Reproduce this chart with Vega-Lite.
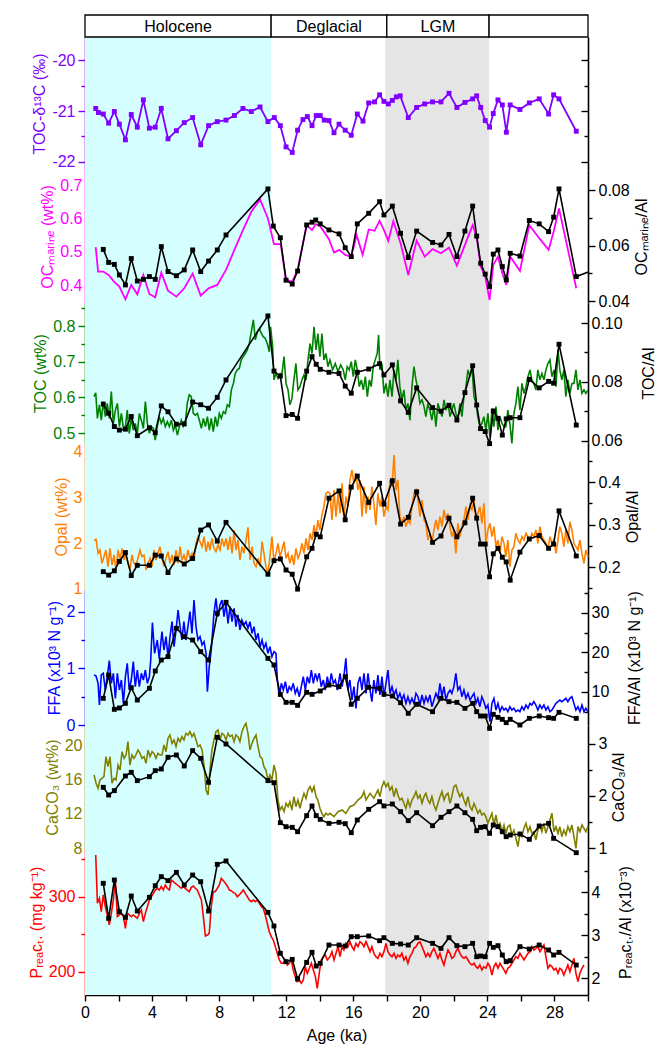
{
"$schema": "https://vega.github.io/schema/vega-lite/v6.json",
"width": 503, "height": 980,
"autosize": "none",
"padding": {"left": 85, "top": 15, "right": 79, "bottom": 53},
"config": {
  "view": {"stroke": null},
  "font": "Liberation Sans",
  "axis": {"labelFontSize": 16, "titleFontSize": 16, "titleFontWeight": "normal", "grid": false, "labelFont": "Liberation Sans", "titleFont": "Liberation Sans", "domainWidth": 1.6, "tickWidth": 1.4, "labelColor": "black", "titleColor": "black", "domainColor": "black", "tickColor": "black", "labelOverlap": false, "labelFlush": false, "titlePadding": 4}
},
"datasets": {
  "a": [{"age":0.64,"v":-20.95},{"age":0.80,"v":-21.03},{"age":1.09,"v":-21.06},{"age":1.41,"v":-21.24},{"age":1.75,"v":-21.01},{"age":2.05,"v":-21.26},{"age":2.41,"v":-21.57},{"age":2.76,"v":-21.07},{"age":3.12,"v":-21.32},{"age":3.48,"v":-20.78},{"age":3.84,"v":-21.34},{"age":4.19,"v":-21.32},{"age":4.55,"v":-20.95},{"age":4.95,"v":-21.55},{"age":5.45,"v":-21.39},{"age":5.92,"v":-21.23},{"age":6.42,"v":-21.13},{"age":6.90,"v":-21.67},{"age":7.37,"v":-21.29},{"age":7.89,"v":-21.21},{"age":8.41,"v":-21.18},{"age":8.91,"v":-21.09},{"age":9.42,"v":-20.95},{"age":9.92,"v":-21.01},{"age":10.44,"v":-20.92},{"age":10.91,"v":-21.21},{"age":11.29,"v":-21.13},{"age":11.65,"v":-21.29},{"age":11.99,"v":-21.71},{"age":12.36,"v":-21.82},{"age":12.68,"v":-21.38},{"age":13.00,"v":-21.17},{"age":13.26,"v":-21.11},{"age":13.54,"v":-21.29},{"age":13.79,"v":-21.09},{"age":14.03,"v":-21.09},{"age":14.27,"v":-21.18},{"age":14.55,"v":-21.19},{"age":14.85,"v":-21.43},{"age":15.15,"v":-21.26},{"age":15.52,"v":-21.38},{"age":15.88,"v":-21.48},{"age":16.24,"v":-21.06},{"age":16.58,"v":-21.20},{"age":16.92,"v":-20.84},{"age":17.27,"v":-20.82},{"age":17.57,"v":-20.68},{"age":17.83,"v":-20.81},{"age":18.09,"v":-20.86},{"age":18.33,"v":-20.79},{"age":18.57,"v":-20.72},{"age":18.80,"v":-20.70},{"age":19.28,"v":-21.13},{"age":19.78,"v":-20.93},{"age":20.26,"v":-20.86},{"age":20.73,"v":-20.82},{"age":21.23,"v":-20.82},{"age":21.71,"v":-20.65},{"age":22.18,"v":-20.93},{"age":22.66,"v":-20.83},{"age":23.12,"v":-20.76},{"age":23.36,"v":-20.70},{"age":23.60,"v":-20.93},{"age":23.87,"v":-21.19},{"age":24.13,"v":-21.32},{"age":24.35,"v":-21.05},{"age":24.63,"v":-20.78},{"age":24.89,"v":-20.88},{"age":25.13,"v":-21.42},{"age":25.36,"v":-20.88},{"age":25.94,"v":-20.97},{"age":26.50,"v":-20.84},{"age":27.09,"v":-20.76},{"age":27.65,"v":-21.06},{"age":27.95,"v":-20.68},{"age":28.27,"v":-20.76},{"age":29.30,"v":-21.40}],
  "b_oc": [{"age":0.64,"v":0.514},{"age":0.78,"v":0.441},{"age":1.09,"v":0.441},{"age":1.41,"v":0.431},{"age":1.73,"v":0.411},{"age":2.05,"v":0.396},{"age":2.41,"v":0.358},{"age":2.76,"v":0.401},{"age":3.12,"v":0.373},{"age":3.48,"v":0.431},{"age":3.84,"v":0.374},{"age":4.19,"v":0.364},{"age":4.55,"v":0.438},{"age":4.95,"v":0.384},{"age":5.45,"v":0.366},{"age":5.92,"v":0.391},{"age":6.42,"v":0.435},{"age":6.90,"v":0.369},{"age":7.37,"v":0.391},{"age":7.89,"v":0.401},{"age":8.41,"v":0.446},{"age":8.91,"v":0.506},{"age":9.42,"v":0.565},{"age":9.92,"v":0.620},{"age":10.44,"v":0.657},{"age":10.91,"v":0.600},{"age":11.27,"v":0.523},{"age":11.67,"v":0.523},{"age":11.99,"v":0.416},{"age":12.36,"v":0.411},{"age":12.68,"v":0.446},{"age":13.22,"v":0.580},{"age":13.54,"v":0.565},{"age":13.76,"v":0.583},{"age":14.03,"v":0.577},{"age":14.55,"v":0.538},{"age":14.85,"v":0.498},{"age":15.17,"v":0.506},{"age":15.52,"v":0.491},{"age":15.88,"v":0.486},{"age":16.20,"v":0.550},{"age":16.56,"v":0.491},{"age":16.92,"v":0.567},{"age":17.27,"v":0.563},{"age":17.57,"v":0.593},{"age":17.83,"v":0.565},{"age":18.09,"v":0.533},{"age":18.39,"v":0.592},{"age":18.82,"v":0.526},{"age":19.28,"v":0.431},{"age":19.78,"v":0.534},{"age":20.26,"v":0.486},{"age":20.73,"v":0.508},{"age":21.23,"v":0.496},{"age":21.71,"v":0.513},{"age":22.18,"v":0.459},{"age":22.66,"v":0.521},{"age":23.12,"v":0.580},{"age":23.36,"v":0.545},{"age":23.60,"v":0.456},{"age":23.87,"v":0.426},{"age":24.13,"v":0.356},{"age":24.35,"v":0.461},{"age":24.63,"v":0.486},{"age":24.89,"v":0.436},{"age":25.13,"v":0.401},{"age":25.36,"v":0.486},{"age":25.94,"v":0.443},{"age":26.50,"v":0.580},{"age":27.09,"v":0.541},{"age":27.65,"v":0.506},{"age":27.95,"v":0.560},{"age":28.27,"v":0.630},{"age":29.30,"v":0.391}],
  "b_al": [{"age":1.09,"v":0.0586},{"age":1.41,"v":0.0539},{"age":1.75,"v":0.0532},{"age":2.05,"v":0.0494},{"age":2.41,"v":0.0458},{"age":2.76,"v":0.0553},{"age":3.12,"v":0.0472},{"age":3.48,"v":0.0478},{"age":3.84,"v":0.0488},{"age":4.19,"v":0.0478},{"age":4.55,"v":0.0596},{"age":4.95,"v":0.0506},{"age":5.45,"v":0.0491},{"age":5.92,"v":0.0512},{"age":6.42,"v":0.0584},{"age":6.90,"v":0.0506},{"age":7.37,"v":0.0544},{"age":7.89,"v":0.0584},{"age":8.41,"v":0.0638},{"age":10.91,"v":0.0804},{"age":11.23,"v":0.0670},{"age":11.65,"v":0.0628},{"age":11.99,"v":0.0475},{"age":12.36,"v":0.0461},{"age":12.68,"v":0.0508},{"age":13.22,"v":0.0674},{"age":13.54,"v":0.0684},{"age":13.76,"v":0.0692},{"age":14.03,"v":0.0678},{"age":14.55,"v":0.0656},{"age":15.15,"v":0.0642},{"age":15.52,"v":0.0592},{"age":15.88,"v":0.0560},{"age":16.24,"v":0.0678},{"age":16.92,"v":0.0716},{"age":17.57,"v":0.0758},{"age":17.83,"v":0.0710},{"age":18.33,"v":0.0742},{"age":18.82,"v":0.0644},{"age":19.28,"v":0.0557},{"age":19.78,"v":0.0652},{"age":20.73,"v":0.0611},{"age":21.23,"v":0.0602},{"age":21.71,"v":0.0640},{"age":22.18,"v":0.0560},{"age":22.66,"v":0.0652},{"age":23.12,"v":0.0742},{"age":23.36,"v":0.0634},{"age":23.60,"v":0.0536},{"age":23.87,"v":0.0497},{"age":24.13,"v":0.0452},{"age":24.35,"v":0.0569},{"age":24.63,"v":0.0584},{"age":24.89,"v":0.0524},{"age":25.13,"v":0.0476},{"age":25.36,"v":0.0572},{"age":25.94,"v":0.0562},{"age":26.50,"v":0.0690},{"age":27.09,"v":0.0678},{"age":27.65,"v":0.0650},{"age":27.95,"v":0.0702},{"age":28.27,"v":0.0804},{"age":29.30,"v":0.0488},{"age":31.0,"v":0.0527}],
  "c_toc": [{"age":0.54,"v":0.602},{"age":0.64,"v":0.613},{"age":0.74,"v":0.541},{"age":0.86,"v":0.579},{"age":0.97,"v":0.536},{"age":1.09,"v":0.588},{"age":1.21,"v":0.546},{"age":1.33,"v":0.583},{"age":1.45,"v":0.541},{"age":1.57,"v":0.616},{"age":1.69,"v":0.527},{"age":1.81,"v":0.564},{"age":1.93,"v":0.583},{"age":2.05,"v":0.518},{"age":2.17,"v":0.555},{"age":2.29,"v":0.513},{"age":2.41,"v":0.518},{"age":2.52,"v":0.564},{"age":2.64,"v":0.499},{"age":2.76,"v":0.541},{"age":2.88,"v":0.508},{"age":3.00,"v":0.527},{"age":3.12,"v":0.499},{"age":3.24,"v":0.555},{"age":3.36,"v":0.536},{"age":3.48,"v":0.513},{"age":3.60,"v":0.588},{"age":3.72,"v":0.527},{"age":3.84,"v":0.499},{"age":3.96,"v":0.518},{"age":4.08,"v":0.513},{"age":4.19,"v":0.480},{"age":4.31,"v":0.518},{"age":4.43,"v":0.546},{"age":4.55,"v":0.527},{"age":4.67,"v":0.541},{"age":4.79,"v":0.518},{"age":4.91,"v":0.532},{"age":5.03,"v":0.518},{"age":5.15,"v":0.536},{"age":5.27,"v":0.508},{"age":5.39,"v":0.522},{"age":5.51,"v":0.494},{"age":5.63,"v":0.518},{"age":5.74,"v":0.536},{"age":5.86,"v":0.518},{"age":5.98,"v":0.527},{"age":6.10,"v":0.583},{"age":6.22,"v":0.607},{"age":6.34,"v":0.602},{"age":6.46,"v":0.555},{"age":6.58,"v":0.550},{"age":6.70,"v":0.555},{"age":6.82,"v":0.536},{"age":6.94,"v":0.513},{"age":7.06,"v":0.541},{"age":7.18,"v":0.518},{"age":7.30,"v":0.546},{"age":7.41,"v":0.508},{"age":7.53,"v":0.541},{"age":7.65,"v":0.504},{"age":7.77,"v":0.546},{"age":7.89,"v":0.518},{"age":8.01,"v":0.555},{"age":8.13,"v":0.541},{"age":8.25,"v":0.560},{"age":8.37,"v":0.555},{"age":8.49,"v":0.579},{"age":8.61,"v":0.574},{"age":8.73,"v":0.621},{"age":8.85,"v":0.639},{"age":8.96,"v":0.667},{"age":9.08,"v":0.677},{"age":9.20,"v":0.681},{"age":9.32,"v":0.705},{"age":9.44,"v":0.714},{"age":9.56,"v":0.723},{"age":9.68,"v":0.733},{"age":9.80,"v":0.751},{"age":9.92,"v":0.784},{"age":10.04,"v":0.817},{"age":10.16,"v":0.761},{"age":10.28,"v":0.784},{"age":10.40,"v":0.793},{"age":10.52,"v":0.779},{"age":10.63,"v":0.770},{"age":10.75,"v":0.765},{"age":10.87,"v":0.751},{"age":10.99,"v":0.728},{"age":11.07,"v":0.798},{"age":11.19,"v":0.742},{"age":11.27,"v":0.649},{"age":11.39,"v":0.667},{"age":11.51,"v":0.653},{"age":11.63,"v":0.667},{"age":11.75,"v":0.667},{"age":11.87,"v":0.714},{"age":11.99,"v":0.639},{"age":12.11,"v":0.621},{"age":12.22,"v":0.579},{"age":12.34,"v":0.597},{"age":12.46,"v":0.649},{"age":12.58,"v":0.695},{"age":12.70,"v":0.621},{"age":12.82,"v":0.630},{"age":12.94,"v":0.649},{"age":13.06,"v":0.663},{"age":13.18,"v":0.649},{"age":13.30,"v":0.705},{"age":13.42,"v":0.751},{"age":13.54,"v":0.723},{"age":13.66,"v":0.798},{"age":13.78,"v":0.733},{"age":13.89,"v":0.779},{"age":14.01,"v":0.714},{"age":14.13,"v":0.779},{"age":14.25,"v":0.705},{"age":14.37,"v":0.723},{"age":14.49,"v":0.686},{"age":14.61,"v":0.705},{"age":14.77,"v":0.677},{"age":14.93,"v":0.695},{"age":15.09,"v":0.672},{"age":15.25,"v":0.691},{"age":15.40,"v":0.677},{"age":15.52,"v":0.649},{"age":15.64,"v":0.686},{"age":15.76,"v":0.677},{"age":15.88,"v":0.700},{"age":16.00,"v":0.658},{"age":16.12,"v":0.705},{"age":16.24,"v":0.677},{"age":16.36,"v":0.630},{"age":16.48,"v":0.649},{"age":16.60,"v":0.621},{"age":16.72,"v":0.658},{"age":16.84,"v":0.602},{"age":16.96,"v":0.649},{"age":17.07,"v":0.630},{"age":17.19,"v":0.686},{"age":17.31,"v":0.705},{"age":17.43,"v":0.723},{"age":17.51,"v":0.775},{"age":17.59,"v":0.677},{"age":17.71,"v":0.695},{"age":17.83,"v":0.611},{"age":17.95,"v":0.639},{"age":18.07,"v":0.602},{"age":18.19,"v":0.649},{"age":18.31,"v":0.602},{"age":18.43,"v":0.677},{"age":18.55,"v":0.649},{"age":18.66,"v":0.705},{"age":18.78,"v":0.630},{"age":18.90,"v":0.593},{"age":19.02,"v":0.621},{"age":19.14,"v":0.564},{"age":19.26,"v":0.583},{"age":19.38,"v":0.536},{"age":19.50,"v":0.630},{"age":19.62,"v":0.686},{"age":19.74,"v":0.649},{"age":19.86,"v":0.621},{"age":19.98,"v":0.583},{"age":20.10,"v":0.593},{"age":20.22,"v":0.574},{"age":20.33,"v":0.546},{"age":20.45,"v":0.583},{"age":20.57,"v":0.564},{"age":20.69,"v":0.536},{"age":20.81,"v":0.574},{"age":20.93,"v":0.518},{"age":21.05,"v":0.583},{"age":21.17,"v":0.564},{"age":21.29,"v":0.546},{"age":21.41,"v":0.593},{"age":21.53,"v":0.564},{"age":21.65,"v":0.583},{"age":21.77,"v":0.546},{"age":21.88,"v":0.564},{"age":22.00,"v":0.583},{"age":22.12,"v":0.555},{"age":22.24,"v":0.536},{"age":22.36,"v":0.583},{"age":22.48,"v":0.546},{"age":22.60,"v":0.602},{"age":22.72,"v":0.630},{"age":22.84,"v":0.677},{"age":22.96,"v":0.658},{"age":23.08,"v":0.686},{"age":23.20,"v":0.602},{"age":23.32,"v":0.583},{"age":23.43,"v":0.546},{"age":23.55,"v":0.518},{"age":23.67,"v":0.527},{"age":23.79,"v":0.546},{"age":23.91,"v":0.508},{"age":24.03,"v":0.555},{"age":24.15,"v":0.490},{"age":24.27,"v":0.564},{"age":24.39,"v":0.518},{"age":24.51,"v":0.574},{"age":24.63,"v":0.508},{"age":24.75,"v":0.546},{"age":24.87,"v":0.527},{"age":24.99,"v":0.518},{"age":25.10,"v":0.518},{"age":25.22,"v":0.564},{"age":25.34,"v":0.527},{"age":25.46,"v":0.471},{"age":25.58,"v":0.555},{"age":25.70,"v":0.583},{"age":25.82,"v":0.630},{"age":25.94,"v":0.564},{"age":26.06,"v":0.639},{"age":26.18,"v":0.611},{"age":26.30,"v":0.630},{"age":26.42,"v":0.658},{"age":26.54,"v":0.677},{"age":26.65,"v":0.649},{"age":26.77,"v":0.639},{"age":26.89,"v":0.621},{"age":27.01,"v":0.677},{"age":27.13,"v":0.649},{"age":27.25,"v":0.667},{"age":27.37,"v":0.649},{"age":27.49,"v":0.677},{"age":27.61,"v":0.695},{"age":27.73,"v":0.705},{"age":27.85,"v":0.658},{"age":27.97,"v":0.677},{"age":28.09,"v":0.630},{"age":28.21,"v":0.733},{"age":28.32,"v":0.677},{"age":28.44,"v":0.649},{"age":28.56,"v":0.677},{"age":28.68,"v":0.602},{"age":28.80,"v":0.649},{"age":28.92,"v":0.611},{"age":29.04,"v":0.639},{"age":29.16,"v":0.639},{"age":29.28,"v":0.677},{"age":29.40,"v":0.621},{"age":29.52,"v":0.649},{"age":29.64,"v":0.611},{"age":29.76,"v":0.621},{"age":29.87,"v":0.611},{"age":30.0,"v":0.621}],
  "c_al": [{"age":1.09,"v":0.0725},{"age":1.41,"v":0.0694},{"age":1.75,"v":0.0649},{"age":2.05,"v":0.0637},{"age":2.41,"v":0.0640},{"age":2.76,"v":0.0683},{"age":3.12,"v":0.0618},{"age":3.84,"v":0.0645},{"age":4.19,"v":0.0628},{"age":4.55,"v":0.0719},{"age":4.95,"v":0.0699},{"age":5.45,"v":0.0657},{"age":5.92,"v":0.0658},{"age":6.42,"v":0.0732},{"age":6.90,"v":0.0723},{"age":7.37,"v":0.0711},{"age":7.89,"v":0.0748},{"age":8.41,"v":0.0807},{"age":10.91,"v":0.1024},{"age":11.27,"v":0.0837},{"age":11.65,"v":0.0820},{"age":11.99,"v":0.0686},{"age":12.36,"v":0.0690},{"age":12.68,"v":0.0677},{"age":13.22,"v":0.0837},{"age":13.54,"v":0.0886},{"age":13.79,"v":0.0860},{"age":14.03,"v":0.0843},{"age":14.55,"v":0.0833},{"age":15.15,"v":0.0829},{"age":15.52,"v":0.0786},{"age":15.88,"v":0.0762},{"age":16.24,"v":0.0833},{"age":16.92,"v":0.0844},{"age":17.57,"v":0.0862},{"age":17.83,"v":0.0824},{"age":18.33,"v":0.0858},{"age":18.82,"v":0.0736},{"age":19.28,"v":0.0697},{"age":19.78,"v":0.0780},{"age":20.73,"v":0.0713},{"age":21.23,"v":0.0701},{"age":21.71,"v":0.0721},{"age":22.18,"v":0.0671},{"age":22.66,"v":0.0764},{"age":23.12,"v":0.0855},{"age":23.36,"v":0.0722},{"age":23.59,"v":0.0642},{"age":23.87,"v":0.0632},{"age":24.13,"v":0.0591},{"age":24.35,"v":0.0702},{"age":24.63,"v":0.0677},{"age":24.89,"v":0.0620},{"age":25.12,"v":0.0675},{"age":25.36,"v":0.0679},{"age":25.94,"v":0.0679},{"age":26.50,"v":0.0809},{"age":27.09,"v":0.0780},{"age":27.65,"v":0.0802},{"age":27.95,"v":0.0796},{"age":28.27,"v":0.0928},{"age":29.30,"v":0.0654}],
  "d_opal": [{"age":0.54,"v":2.073},{"age":0.66,"v":2.088},{"age":0.78,"v":1.781},{"age":0.89,"v":1.854},{"age":1.01,"v":1.562},{"age":1.13,"v":1.708},{"age":1.25,"v":1.854},{"age":1.37,"v":1.489},{"age":1.49,"v":1.891},{"age":1.61,"v":1.526},{"age":1.73,"v":1.745},{"age":1.85,"v":1.416},{"age":1.97,"v":1.854},{"age":2.09,"v":1.635},{"age":2.21,"v":1.891},{"age":2.33,"v":1.635},{"age":2.45,"v":1.818},{"age":2.56,"v":1.562},{"age":2.68,"v":1.416},{"age":2.80,"v":1.745},{"age":2.92,"v":1.562},{"age":3.04,"v":1.526},{"age":3.16,"v":1.672},{"age":3.28,"v":1.854},{"age":3.40,"v":1.708},{"age":3.52,"v":1.745},{"age":3.64,"v":1.416},{"age":3.76,"v":1.562},{"age":3.88,"v":1.672},{"age":4.00,"v":1.489},{"age":4.11,"v":1.854},{"age":4.23,"v":1.635},{"age":4.35,"v":1.781},{"age":4.47,"v":1.927},{"age":4.59,"v":1.672},{"age":4.71,"v":1.489},{"age":4.83,"v":1.672},{"age":4.95,"v":1.818},{"age":5.07,"v":1.562},{"age":5.19,"v":1.745},{"age":5.31,"v":1.526},{"age":5.43,"v":1.854},{"age":5.55,"v":1.562},{"age":5.67,"v":1.927},{"age":5.78,"v":1.635},{"age":5.90,"v":1.745},{"age":6.02,"v":1.599},{"age":6.14,"v":1.854},{"age":6.26,"v":1.672},{"age":6.38,"v":1.781},{"age":6.50,"v":1.635},{"age":6.62,"v":2.000},{"age":6.74,"v":2.146},{"age":6.86,"v":2.036},{"age":6.98,"v":1.927},{"age":7.10,"v":2.146},{"age":7.22,"v":1.818},{"age":7.34,"v":2.036},{"age":7.45,"v":1.854},{"age":7.57,"v":2.109},{"age":7.69,"v":1.891},{"age":7.81,"v":1.818},{"age":7.93,"v":1.964},{"age":8.05,"v":1.854},{"age":8.17,"v":2.109},{"age":8.29,"v":1.927},{"age":8.41,"v":2.109},{"age":8.53,"v":1.854},{"age":8.65,"v":2.146},{"age":8.77,"v":1.781},{"age":8.89,"v":2.292},{"age":9.00,"v":1.854},{"age":9.12,"v":2.073},{"age":9.24,"v":1.635},{"age":9.36,"v":1.927},{"age":9.48,"v":1.781},{"age":9.60,"v":2.073},{"age":9.72,"v":2.350},{"age":9.84,"v":1.635},{"age":9.96,"v":1.927},{"age":10.08,"v":1.562},{"age":10.20,"v":1.489},{"age":10.32,"v":1.672},{"age":10.44,"v":1.489},{"age":10.56,"v":2.036},{"age":10.67,"v":1.781},{"age":10.79,"v":1.489},{"age":10.91,"v":1.343},{"age":11.03,"v":1.708},{"age":11.15,"v":2.146},{"age":11.27,"v":1.599},{"age":11.39,"v":1.781},{"age":11.51,"v":2.000},{"age":11.63,"v":1.708},{"age":11.75,"v":1.854},{"age":11.87,"v":2.036},{"age":11.99,"v":1.672},{"age":12.11,"v":1.781},{"age":12.22,"v":1.562},{"age":12.34,"v":1.745},{"age":12.46,"v":1.526},{"age":12.58,"v":1.891},{"age":12.70,"v":1.672},{"age":12.82,"v":1.781},{"age":12.94,"v":2.000},{"age":13.06,"v":1.781},{"age":13.18,"v":2.109},{"age":13.30,"v":1.854},{"age":13.42,"v":2.219},{"age":13.54,"v":2.073},{"age":13.66,"v":2.401},{"age":13.78,"v":2.146},{"age":13.89,"v":2.511},{"age":14.01,"v":2.292},{"age":14.13,"v":2.620},{"age":14.25,"v":2.803},{"age":14.37,"v":3.095},{"age":14.49,"v":3.131},{"age":14.61,"v":3.095},{"age":14.73,"v":2.511},{"age":14.85,"v":3.168},{"age":14.97,"v":2.584},{"age":15.09,"v":3.095},{"age":15.21,"v":2.657},{"age":15.33,"v":3.314},{"age":15.44,"v":2.511},{"age":15.56,"v":3.022},{"age":15.68,"v":2.803},{"age":15.80,"v":3.387},{"age":15.92,"v":3.606},{"age":16.04,"v":3.314},{"age":16.16,"v":3.533},{"age":16.28,"v":3.168},{"age":16.40,"v":3.387},{"age":16.52,"v":2.584},{"age":16.64,"v":3.241},{"age":16.76,"v":2.657},{"age":16.88,"v":3.022},{"age":17.00,"v":2.730},{"age":17.11,"v":3.241},{"age":17.23,"v":2.876},{"age":17.35,"v":2.401},{"age":17.47,"v":3.095},{"age":17.59,"v":2.803},{"age":17.71,"v":3.022},{"age":17.83,"v":2.584},{"age":17.95,"v":2.803},{"age":18.07,"v":2.730},{"age":18.19,"v":3.387},{"age":18.31,"v":3.241},{"age":18.43,"v":3.934},{"age":18.55,"v":3.168},{"age":18.66,"v":3.387},{"age":18.78,"v":2.584},{"age":18.90,"v":2.438},{"age":19.02,"v":2.584},{"age":19.14,"v":2.365},{"age":19.26,"v":2.511},{"age":19.38,"v":2.438},{"age":19.50,"v":2.803},{"age":19.62,"v":3.095},{"age":19.74,"v":3.168},{"age":19.86,"v":2.949},{"age":19.98,"v":2.584},{"age":20.10,"v":2.949},{"age":20.22,"v":2.511},{"age":20.33,"v":2.438},{"age":20.45,"v":2.073},{"age":20.57,"v":2.219},{"age":20.69,"v":2.000},{"age":20.81,"v":2.292},{"age":20.93,"v":2.511},{"age":21.05,"v":2.292},{"age":21.17,"v":2.584},{"age":21.29,"v":2.365},{"age":21.41,"v":2.730},{"age":21.53,"v":2.511},{"age":21.65,"v":2.657},{"age":21.77,"v":2.365},{"age":21.88,"v":2.146},{"age":22.00,"v":2.292},{"age":22.12,"v":1.781},{"age":22.24,"v":2.438},{"age":22.36,"v":2.146},{"age":22.48,"v":2.365},{"age":22.60,"v":2.511},{"age":22.72,"v":2.803},{"age":22.84,"v":2.511},{"age":22.96,"v":2.839},{"age":23.08,"v":2.730},{"age":23.20,"v":2.949},{"age":23.32,"v":2.511},{"age":23.43,"v":2.657},{"age":23.55,"v":2.803},{"age":23.67,"v":2.438},{"age":23.79,"v":2.876},{"age":23.91,"v":2.000},{"age":24.03,"v":2.292},{"age":24.15,"v":2.438},{"age":24.27,"v":2.146},{"age":24.39,"v":2.365},{"age":24.51,"v":1.927},{"age":24.63,"v":2.073},{"age":24.75,"v":1.781},{"age":24.87,"v":2.146},{"age":24.99,"v":2.000},{"age":25.10,"v":1.708},{"age":25.22,"v":2.073},{"age":25.34,"v":1.489},{"age":25.46,"v":1.854},{"age":25.58,"v":1.927},{"age":25.70,"v":2.219},{"age":25.82,"v":2.073},{"age":25.94,"v":2.000},{"age":26.06,"v":2.146},{"age":26.18,"v":2.073},{"age":26.30,"v":2.219},{"age":26.42,"v":2.146},{"age":26.54,"v":2.073},{"age":26.65,"v":2.219},{"age":26.77,"v":2.146},{"age":26.89,"v":2.292},{"age":27.01,"v":2.000},{"age":27.13,"v":2.365},{"age":27.25,"v":2.146},{"age":27.37,"v":2.073},{"age":27.49,"v":2.000},{"age":27.61,"v":1.854},{"age":27.73,"v":2.146},{"age":27.85,"v":2.000},{"age":27.97,"v":2.073},{"age":28.09,"v":1.781},{"age":28.21,"v":2.073},{"age":28.32,"v":2.365},{"age":28.44,"v":2.219},{"age":28.56,"v":1.927},{"age":28.68,"v":2.292},{"age":28.80,"v":2.000},{"age":28.92,"v":2.474},{"age":29.04,"v":2.292},{"age":29.16,"v":2.000},{"age":29.28,"v":1.927},{"age":29.40,"v":1.854},{"age":29.52,"v":2.073},{"age":29.64,"v":1.781},{"age":29.76,"v":1.562},{"age":29.87,"v":1.854},{"age":30.0,"v":1.708}],
  "d_al": [{"age":1.09,"v":0.189},{"age":1.41,"v":0.181},{"age":1.75,"v":0.191},{"age":2.05,"v":0.213},{"age":2.41,"v":0.234},{"age":2.76,"v":0.180},{"age":3.12,"v":0.204},{"age":3.84,"v":0.204},{"age":4.19,"v":0.228},{"age":4.55,"v":0.226},{"age":4.95,"v":0.187},{"age":5.45,"v":0.219},{"age":5.92,"v":0.207},{"age":6.42,"v":0.220},{"age":6.90,"v":0.287},{"age":7.37,"v":0.299},{"age":7.89,"v":0.261},{"age":8.41,"v":0.305},{"age":10.91,"v":0.183},{"age":11.27,"v":0.215},{"age":11.65,"v":0.219},{"age":11.99,"v":0.193},{"age":12.36,"v":0.183},{"age":12.68,"v":0.148},{"age":13.22,"v":0.224},{"age":13.54,"v":0.244},{"age":13.79,"v":0.277},{"age":14.03,"v":0.271},{"age":14.55,"v":0.362},{"age":15.15,"v":0.379},{"age":15.52,"v":0.311},{"age":15.88,"v":0.388},{"age":16.24,"v":0.414},{"age":16.92,"v":0.352},{"age":17.57,"v":0.397},{"age":17.83,"v":0.348},{"age":18.33,"v":0.403},{"age":18.82,"v":0.301},{"age":19.28,"v":0.317},{"age":19.78,"v":0.377},{"age":20.73,"v":0.258},{"age":21.23,"v":0.273},{"age":21.71,"v":0.315},{"age":22.18,"v":0.271},{"age":22.66,"v":0.304},{"age":23.12,"v":0.362},{"age":23.36,"v":0.315},{"age":23.59,"v":0.254},{"age":23.87,"v":0.254},{"age":24.13,"v":0.177},{"age":24.35,"v":0.231},{"age":24.63,"v":0.244},{"age":24.89,"v":0.223},{"age":25.12,"v":0.212},{"age":25.36,"v":0.169},{"age":25.94,"v":0.235},{"age":26.50,"v":0.266},{"age":27.09,"v":0.274},{"age":27.65,"v":0.244},{"age":27.95,"v":0.254},{"age":28.27,"v":0.332},{"age":29.30,"v":0.226}],
  "e_ffa": [{"age":0.54,"v":0.885},{"age":0.66,"v":0.867},{"age":0.78,"v":0.737},{"age":0.86,"v":0.354},{"age":0.97,"v":0.885},{"age":1.09,"v":0.914},{"age":1.21,"v":0.619},{"age":1.33,"v":0.855},{"age":1.45,"v":1.139},{"age":1.57,"v":0.737},{"age":1.69,"v":0.914},{"age":1.81,"v":0.472},{"age":1.93,"v":0.914},{"age":2.05,"v":0.619},{"age":2.17,"v":0.796},{"age":2.29,"v":0.383},{"age":2.41,"v":0.855},{"age":2.52,"v":1.091},{"age":2.64,"v":0.619},{"age":2.76,"v":0.796},{"age":2.88,"v":1.121},{"age":3.00,"v":0.678},{"age":3.12,"v":0.973},{"age":3.24,"v":0.678},{"age":3.36,"v":0.914},{"age":3.48,"v":0.796},{"age":3.60,"v":0.973},{"age":3.72,"v":0.737},{"age":3.84,"v":0.855},{"age":3.92,"v":1.150},{"age":4.02,"v":1.811},{"age":4.15,"v":1.268},{"age":4.31,"v":1.504},{"age":4.43,"v":1.180},{"age":4.59,"v":1.652},{"age":4.71,"v":1.327},{"age":4.83,"v":1.563},{"age":4.95,"v":1.209},{"age":5.07,"v":1.563},{"age":5.19,"v":1.829},{"age":5.31,"v":1.386},{"age":5.43,"v":1.681},{"age":5.55,"v":2.035},{"age":5.67,"v":1.740},{"age":5.78,"v":1.504},{"age":5.90,"v":1.829},{"age":6.02,"v":1.504},{"age":6.14,"v":1.740},{"age":6.26,"v":2.006},{"age":6.38,"v":1.622},{"age":6.50,"v":2.212},{"age":6.62,"v":1.740},{"age":6.74,"v":1.504},{"age":6.86,"v":1.563},{"age":6.98,"v":1.416},{"age":7.10,"v":1.475},{"age":7.22,"v":1.268},{"age":7.30,"v":0.589},{"age":7.41,"v":1.032},{"age":7.53,"v":1.327},{"age":7.69,"v":1.976},{"age":7.81,"v":2.242},{"age":7.93,"v":1.917},{"age":8.05,"v":2.124},{"age":8.17,"v":2.212},{"age":8.29,"v":1.917},{"age":8.41,"v":2.153},{"age":8.53,"v":1.799},{"age":8.65,"v":2.094},{"age":8.77,"v":1.829},{"age":8.89,"v":2.065},{"age":9.00,"v":1.740},{"age":9.12,"v":1.947},{"age":9.24,"v":1.681},{"age":9.36,"v":1.858},{"age":9.48,"v":1.770},{"age":9.60,"v":1.829},{"age":9.72,"v":1.711},{"age":9.84,"v":1.829},{"age":9.96,"v":1.622},{"age":10.08,"v":1.740},{"age":10.20,"v":1.504},{"age":10.32,"v":1.622},{"age":10.44,"v":1.386},{"age":10.56,"v":1.504},{"age":10.67,"v":1.357},{"age":10.79,"v":1.445},{"age":10.91,"v":1.268},{"age":11.03,"v":1.386},{"age":11.15,"v":1.209},{"age":11.27,"v":1.298},{"age":11.39,"v":1.268},{"age":11.47,"v":0.796},{"age":11.59,"v":0.501},{"age":11.71,"v":0.737},{"age":11.83,"v":0.619},{"age":11.95,"v":0.767},{"age":12.07,"v":0.560},{"age":12.18,"v":0.678},{"age":12.30,"v":0.619},{"age":12.42,"v":0.737},{"age":12.54,"v":0.560},{"age":12.66,"v":0.649},{"age":12.78,"v":0.501},{"age":12.90,"v":0.678},{"age":13.02,"v":0.855},{"age":13.14,"v":0.619},{"age":13.26,"v":0.855},{"age":13.38,"v":0.737},{"age":13.50,"v":0.973},{"age":13.62,"v":0.737},{"age":13.74,"v":0.914},{"age":13.85,"v":0.796},{"age":13.97,"v":0.914},{"age":14.09,"v":0.678},{"age":14.21,"v":0.796},{"age":14.33,"v":0.619},{"age":14.45,"v":0.855},{"age":14.57,"v":0.678},{"age":14.69,"v":0.914},{"age":14.81,"v":0.737},{"age":14.93,"v":0.796},{"age":15.05,"v":0.619},{"age":15.21,"v":0.914},{"age":15.33,"v":0.678},{"age":15.44,"v":0.855},{"age":15.56,"v":1.180},{"age":15.68,"v":0.619},{"age":15.80,"v":0.796},{"age":15.92,"v":0.442},{"age":16.04,"v":0.678},{"age":16.16,"v":0.295},{"age":16.28,"v":0.737},{"age":16.40,"v":0.855},{"age":16.52,"v":0.619},{"age":16.64,"v":0.914},{"age":16.76,"v":0.560},{"age":16.88,"v":0.914},{"age":17.00,"v":0.619},{"age":17.11,"v":0.413},{"age":17.23,"v":0.796},{"age":17.35,"v":0.560},{"age":17.47,"v":0.885},{"age":17.59,"v":0.531},{"age":17.71,"v":0.855},{"age":17.83,"v":0.501},{"age":17.95,"v":0.737},{"age":18.07,"v":0.973},{"age":18.19,"v":0.560},{"age":18.31,"v":0.678},{"age":18.43,"v":0.531},{"age":18.55,"v":0.619},{"age":18.66,"v":0.472},{"age":18.78,"v":0.560},{"age":18.90,"v":0.442},{"age":19.02,"v":0.531},{"age":19.14,"v":0.383},{"age":19.26,"v":0.501},{"age":19.38,"v":0.383},{"age":19.50,"v":0.472},{"age":19.62,"v":0.383},{"age":19.74,"v":0.560},{"age":19.86,"v":0.501},{"age":19.98,"v":0.354},{"age":20.10,"v":0.531},{"age":20.22,"v":0.383},{"age":20.33,"v":0.501},{"age":20.45,"v":0.413},{"age":20.57,"v":0.531},{"age":20.69,"v":0.324},{"age":20.81,"v":0.442},{"age":20.93,"v":0.560},{"age":21.05,"v":0.472},{"age":21.17,"v":0.737},{"age":21.29,"v":0.501},{"age":21.41,"v":0.678},{"age":21.53,"v":0.442},{"age":21.65,"v":0.560},{"age":21.77,"v":0.619},{"age":21.88,"v":0.560},{"age":22.00,"v":0.678},{"age":22.12,"v":0.914},{"age":22.24,"v":0.619},{"age":22.36,"v":0.678},{"age":22.48,"v":0.501},{"age":22.60,"v":0.619},{"age":22.72,"v":0.472},{"age":22.84,"v":0.560},{"age":22.96,"v":0.442},{"age":23.08,"v":0.501},{"age":23.20,"v":0.560},{"age":23.32,"v":0.383},{"age":23.43,"v":0.472},{"age":23.55,"v":0.324},{"age":23.67,"v":0.501},{"age":23.79,"v":0.413},{"age":23.91,"v":0.295},{"age":24.03,"v":0.354},{"age":24.15,"v":0.059},{"age":24.27,"v":0.383},{"age":24.39,"v":0.472},{"age":24.51,"v":0.265},{"age":24.63,"v":0.383},{"age":24.75,"v":0.236},{"age":24.87,"v":0.324},{"age":24.99,"v":0.265},{"age":25.10,"v":0.295},{"age":25.22,"v":0.236},{"age":25.34,"v":0.324},{"age":25.46,"v":0.265},{"age":25.58,"v":0.295},{"age":25.70,"v":0.236},{"age":25.82,"v":0.265},{"age":25.94,"v":0.236},{"age":26.06,"v":0.324},{"age":26.18,"v":0.265},{"age":26.30,"v":0.354},{"age":26.42,"v":0.295},{"age":26.54,"v":0.383},{"age":26.65,"v":0.354},{"age":26.77,"v":0.413},{"age":26.89,"v":0.354},{"age":27.01,"v":0.265},{"age":27.13,"v":0.354},{"age":27.25,"v":0.295},{"age":27.37,"v":0.354},{"age":27.49,"v":0.265},{"age":27.61,"v":0.324},{"age":27.73,"v":0.236},{"age":27.85,"v":0.265},{"age":27.97,"v":0.324},{"age":28.09,"v":0.383},{"age":28.21,"v":0.413},{"age":28.32,"v":0.442},{"age":28.44,"v":0.413},{"age":28.56,"v":0.442},{"age":28.68,"v":0.472},{"age":28.80,"v":0.413},{"age":28.92,"v":0.472},{"age":29.04,"v":0.501},{"age":29.16,"v":0.383},{"age":29.28,"v":0.265},{"age":29.40,"v":0.324},{"age":29.52,"v":0.236},{"age":29.64,"v":0.354},{"age":29.76,"v":0.236},{"age":29.87,"v":0.295},{"age":30.0,"v":0.236}],
  "e_al": [{"age":1.09,"v":8.40},{"age":1.41,"v":14.30},{"age":1.75,"v":5.61},{"age":2.05,"v":5.95},{"age":2.41,"v":7.13},{"age":2.76,"v":11.10},{"age":3.12,"v":7.97},{"age":3.84,"v":10.93},{"age":4.19,"v":15.32},{"age":4.55,"v":18.10},{"age":4.95,"v":18.95},{"age":5.45,"v":26.12},{"age":5.92,"v":24.01},{"age":6.42,"v":23.16},{"age":6.90,"v":20.21},{"age":7.37,"v":18.10},{"age":7.89,"v":29.92},{"age":8.41,"v":32.70},{"age":10.91,"v":18.52},{"age":11.27,"v":16.84},{"age":11.65,"v":9.41},{"age":11.99,"v":7.38},{"age":12.36,"v":7.38},{"age":12.68,"v":6.62},{"age":13.22,"v":9.92},{"age":13.54,"v":9.41},{"age":14.03,"v":10.25},{"age":14.55,"v":11.77},{"age":15.15,"v":11.35},{"age":15.52,"v":13.88},{"age":15.88,"v":6.88},{"age":16.24,"v":8.40},{"age":16.92,"v":11.18},{"age":17.57,"v":10.93},{"age":17.83,"v":9.41},{"age":18.33,"v":8.99},{"age":18.82,"v":7.30},{"age":19.28,"v":4.60},{"age":19.78,"v":6.88},{"age":20.73,"v":5.02},{"age":21.23,"v":8.40},{"age":21.71,"v":7.55},{"age":22.18,"v":7.38},{"age":22.66,"v":5.86},{"age":23.12,"v":7.13},{"age":23.36,"v":5.02},{"age":23.59,"v":3.92},{"age":23.87,"v":3.92},{"age":24.13,"v":0.80},{"age":24.35,"v":4.35},{"age":24.63,"v":3.59},{"age":24.89,"v":3.08},{"age":25.12,"v":2.24},{"age":25.36,"v":3.08},{"age":25.94,"v":1.65},{"age":26.50,"v":3.33},{"age":27.09,"v":3.92},{"age":27.65,"v":3.50},{"age":27.95,"v":3.33},{"age":28.27,"v":4.85},{"age":29.30,"v":3.33}],
  "f_caco3": [{"age":0.54,"v":16.52},{"age":0.66,"v":15.56},{"age":0.78,"v":14.98},{"age":0.89,"v":15.94},{"age":1.01,"v":16.14},{"age":1.13,"v":16.33},{"age":1.25,"v":18.65},{"age":1.37,"v":17.49},{"age":1.49,"v":18.65},{"age":1.61,"v":15.56},{"age":1.73,"v":16.14},{"age":1.85,"v":15.94},{"age":1.97,"v":17.68},{"age":2.09,"v":17.10},{"age":2.21,"v":19.23},{"age":2.33,"v":18.45},{"age":2.45,"v":18.84},{"age":2.56,"v":20.39},{"age":2.68,"v":17.68},{"age":2.80,"v":18.84},{"age":2.92,"v":18.45},{"age":3.04,"v":18.84},{"age":3.16,"v":19.42},{"age":3.28,"v":19.03},{"age":3.40,"v":18.45},{"age":3.52,"v":18.65},{"age":3.64,"v":17.87},{"age":3.76,"v":19.42},{"age":3.88,"v":18.65},{"age":4.00,"v":19.23},{"age":4.11,"v":19.03},{"age":4.23,"v":18.45},{"age":4.35,"v":19.03},{"age":4.47,"v":18.84},{"age":4.59,"v":18.84},{"age":4.71,"v":20.00},{"age":4.83,"v":19.23},{"age":4.95,"v":20.77},{"age":5.07,"v":21.16},{"age":5.19,"v":20.19},{"age":5.31,"v":20.58},{"age":5.43,"v":19.81},{"age":5.55,"v":20.77},{"age":5.67,"v":20.39},{"age":5.78,"v":20.97},{"age":5.90,"v":20.58},{"age":6.02,"v":21.35},{"age":6.14,"v":21.16},{"age":6.26,"v":21.55},{"age":6.38,"v":20.97},{"age":6.50,"v":21.35},{"age":6.62,"v":20.58},{"age":6.74,"v":19.81},{"age":6.86,"v":20.00},{"age":6.98,"v":19.42},{"age":7.10,"v":17.68},{"age":7.22,"v":14.78},{"age":7.34,"v":14.20},{"age":7.45,"v":17.10},{"age":7.57,"v":19.42},{"age":7.69,"v":20.58},{"age":7.81,"v":21.55},{"age":7.93,"v":21.74},{"age":8.05,"v":20.58},{"age":8.17,"v":21.35},{"age":8.29,"v":21.16},{"age":8.41,"v":20.58},{"age":8.53,"v":21.35},{"age":8.65,"v":20.97},{"age":8.77,"v":21.16},{"age":8.89,"v":20.39},{"age":9.00,"v":21.16},{"age":9.12,"v":20.97},{"age":9.24,"v":20.39},{"age":9.36,"v":21.55},{"age":9.48,"v":22.13},{"age":9.60,"v":22.51},{"age":9.72,"v":21.35},{"age":9.84,"v":19.42},{"age":9.96,"v":20.19},{"age":10.08,"v":20.77},{"age":10.20,"v":21.16},{"age":10.32,"v":19.81},{"age":10.44,"v":18.65},{"age":10.56,"v":18.45},{"age":10.67,"v":17.49},{"age":10.79,"v":17.10},{"age":10.91,"v":15.94},{"age":11.03,"v":16.52},{"age":11.15,"v":15.94},{"age":11.27,"v":17.68},{"age":11.39,"v":16.71},{"age":11.51,"v":13.62},{"age":11.63,"v":12.46},{"age":11.75,"v":12.85},{"age":11.87,"v":12.27},{"age":11.99,"v":13.24},{"age":12.11,"v":12.85},{"age":12.22,"v":13.43},{"age":12.34,"v":12.46},{"age":12.46,"v":14.01},{"age":12.58,"v":12.85},{"age":12.70,"v":13.62},{"age":12.82,"v":12.66},{"age":12.94,"v":13.62},{"age":13.06,"v":14.40},{"age":13.18,"v":13.82},{"age":13.30,"v":14.78},{"age":13.42,"v":15.17},{"age":13.54,"v":14.59},{"age":13.66,"v":15.17},{"age":13.78,"v":14.01},{"age":13.89,"v":13.62},{"age":14.01,"v":12.66},{"age":14.13,"v":12.08},{"age":14.25,"v":11.69},{"age":14.37,"v":12.08},{"age":14.49,"v":11.88},{"age":14.61,"v":12.08},{"age":14.85,"v":11.69},{"age":15.09,"v":12.27},{"age":15.33,"v":12.46},{"age":15.56,"v":12.08},{"age":15.80,"v":12.85},{"age":16.04,"v":13.04},{"age":16.28,"v":13.62},{"age":16.52,"v":14.01},{"age":16.64,"v":14.59},{"age":16.76,"v":13.62},{"age":17.00,"v":14.40},{"age":17.23,"v":13.82},{"age":17.47,"v":14.78},{"age":17.59,"v":14.01},{"age":17.71,"v":15.17},{"age":17.83,"v":15.75},{"age":17.95,"v":15.17},{"age":18.07,"v":15.56},{"age":18.19,"v":14.78},{"age":18.31,"v":15.17},{"age":18.43,"v":14.01},{"age":18.55,"v":14.98},{"age":18.66,"v":14.20},{"age":18.78,"v":13.62},{"age":18.90,"v":13.82},{"age":19.02,"v":13.24},{"age":19.14,"v":12.66},{"age":19.26,"v":13.62},{"age":19.38,"v":12.85},{"age":19.50,"v":13.62},{"age":19.62,"v":14.01},{"age":19.74,"v":14.59},{"age":19.86,"v":13.82},{"age":19.98,"v":14.20},{"age":20.10,"v":13.24},{"age":20.22,"v":14.01},{"age":20.33,"v":14.40},{"age":20.45,"v":13.62},{"age":20.57,"v":13.24},{"age":20.69,"v":14.01},{"age":20.81,"v":13.04},{"age":20.93,"v":12.46},{"age":21.05,"v":13.24},{"age":21.17,"v":14.01},{"age":21.29,"v":14.59},{"age":21.41,"v":13.62},{"age":21.53,"v":14.20},{"age":21.65,"v":14.40},{"age":21.77,"v":13.24},{"age":21.88,"v":14.01},{"age":22.00,"v":15.17},{"age":22.12,"v":15.36},{"age":22.24,"v":14.59},{"age":22.36,"v":14.01},{"age":22.48,"v":14.40},{"age":22.60,"v":13.62},{"age":22.72,"v":13.04},{"age":22.84,"v":14.01},{"age":22.96,"v":12.85},{"age":23.08,"v":12.46},{"age":23.20,"v":13.24},{"age":23.32,"v":12.66},{"age":23.43,"v":12.08},{"age":23.55,"v":12.46},{"age":23.67,"v":11.88},{"age":23.79,"v":12.08},{"age":23.91,"v":11.69},{"age":24.03,"v":10.92},{"age":24.15,"v":11.50},{"age":24.27,"v":12.08},{"age":24.39,"v":10.72},{"age":24.51,"v":11.88},{"age":24.63,"v":10.53},{"age":24.75,"v":10.92},{"age":24.87,"v":9.95},{"age":24.99,"v":10.72},{"age":25.10,"v":9.76},{"age":25.22,"v":10.53},{"age":25.34,"v":10.72},{"age":25.46,"v":9.57},{"age":25.58,"v":10.14},{"age":25.70,"v":9.18},{"age":25.82,"v":8.21},{"age":25.94,"v":9.76},{"age":26.06,"v":9.37},{"age":26.18,"v":10.34},{"age":26.30,"v":10.92},{"age":26.42,"v":9.95},{"age":26.54,"v":10.53},{"age":26.65,"v":9.76},{"age":26.77,"v":9.95},{"age":26.89,"v":8.99},{"age":27.01,"v":10.14},{"age":27.13,"v":10.72},{"age":27.25,"v":9.95},{"age":27.37,"v":10.92},{"age":27.49,"v":9.76},{"age":27.61,"v":10.53},{"age":27.73,"v":11.30},{"age":27.85,"v":12.08},{"age":27.97,"v":9.95},{"age":28.09,"v":10.53},{"age":28.21,"v":9.76},{"age":28.32,"v":10.53},{"age":28.44,"v":9.37},{"age":28.56,"v":10.14},{"age":28.68,"v":9.57},{"age":28.80,"v":10.53},{"age":28.92,"v":9.95},{"age":29.04,"v":10.72},{"age":29.16,"v":9.37},{"age":29.28,"v":8.02},{"age":29.40,"v":10.53},{"age":29.52,"v":9.95},{"age":29.64,"v":10.72},{"age":29.76,"v":10.34},{"age":29.87,"v":9.95},{"age":30.0,"v":10.53}],
  "f_al": [{"age":1.09,"v":2.167},{"age":1.41,"v":2.019},{"age":1.75,"v":2.103},{"age":2.41,"v":2.385},{"age":2.76,"v":2.455},{"age":3.12,"v":2.295},{"age":3.84,"v":2.372},{"age":4.19,"v":2.487},{"age":4.55,"v":2.519},{"age":4.95,"v":2.744},{"age":5.45,"v":2.788},{"age":5.92,"v":2.577},{"age":6.42,"v":2.872},{"age":6.90,"v":2.724},{"age":7.37,"v":2.263},{"age":7.89,"v":3.128},{"age":8.41,"v":3.000},{"age":10.91,"v":2.295},{"age":11.27,"v":2.256},{"age":11.65,"v":1.487},{"age":11.99,"v":1.410},{"age":12.36,"v":1.397},{"age":12.68,"v":1.314},{"age":13.22,"v":1.622},{"age":13.54,"v":1.808},{"age":13.79,"v":1.622},{"age":14.03,"v":1.551},{"age":14.55,"v":1.474},{"age":15.15,"v":1.494},{"age":15.52,"v":1.468},{"age":15.88,"v":1.295},{"age":16.24,"v":1.538},{"age":16.92,"v":1.744},{"age":17.57,"v":1.891},{"age":17.83,"v":1.808},{"age":18.33,"v":1.846},{"age":18.82,"v":1.699},{"age":19.28,"v":1.526},{"age":19.78,"v":1.679},{"age":20.73,"v":1.429},{"age":21.23,"v":1.590},{"age":21.71,"v":1.699},{"age":22.18,"v":1.808},{"age":22.66,"v":1.679},{"age":23.12,"v":1.551},{"age":23.36,"v":1.333},{"age":23.59,"v":1.397},{"age":23.87,"v":1.410},{"age":24.13,"v":1.282},{"age":24.35,"v":1.442},{"age":24.63,"v":1.410},{"age":24.89,"v":1.314},{"age":25.12,"v":1.218},{"age":25.36,"v":1.250},{"age":25.94,"v":1.269},{"age":26.50,"v":1.167},{"age":27.09,"v":1.423},{"age":27.65,"v":1.474},{"age":27.95,"v":1.186},{"age":29.30,"v":0.910}],
  "g_p": [{"age":0.64,"v":356.0},{"age":0.74,"v":291.6},{"age":0.86,"v":298.2},{"age":0.97,"v":280.4},{"age":1.09,"v":302.7},{"age":1.21,"v":287.1},{"age":1.33,"v":276.0},{"age":1.45,"v":262.7},{"age":1.57,"v":278.2},{"age":1.69,"v":296.0},{"age":1.81,"v":322.7},{"age":1.93,"v":273.8},{"age":2.05,"v":276.0},{"age":2.17,"v":278.2},{"age":2.29,"v":273.8},{"age":2.41,"v":258.2},{"age":2.52,"v":278.2},{"age":2.64,"v":276.0},{"age":2.76,"v":273.8},{"age":2.88,"v":276.0},{"age":3.00,"v":273.8},{"age":3.12,"v":271.6},{"age":3.24,"v":278.2},{"age":3.36,"v":282.7},{"age":3.48,"v":267.1},{"age":3.60,"v":278.2},{"age":3.72,"v":287.1},{"age":3.84,"v":296.0},{"age":3.96,"v":300.4},{"age":4.08,"v":304.9},{"age":4.19,"v":309.3},{"age":4.31,"v":311.6},{"age":4.43,"v":309.3},{"age":4.55,"v":313.8},{"age":4.67,"v":309.3},{"age":4.79,"v":316.0},{"age":4.91,"v":311.6},{"age":5.03,"v":309.3},{"age":5.15,"v":322.7},{"age":5.27,"v":320.4},{"age":5.39,"v":318.2},{"age":5.51,"v":316.0},{"age":5.63,"v":313.8},{"age":5.74,"v":311.6},{"age":5.86,"v":313.8},{"age":5.98,"v":311.6},{"age":6.10,"v":309.3},{"age":6.22,"v":307.1},{"age":6.34,"v":312.9},{"age":6.46,"v":314.7},{"age":6.58,"v":311.6},{"age":6.70,"v":309.3},{"age":6.82,"v":302.7},{"age":6.94,"v":296.0},{"age":7.06,"v":273.8},{"age":7.18,"v":248.0},{"age":7.30,"v":249.3},{"age":7.41,"v":251.6},{"age":7.53,"v":287.1},{"age":7.65,"v":307.1},{"age":7.77,"v":307.1},{"age":7.89,"v":311.6},{"age":8.01,"v":316.0},{"age":8.13,"v":324.9},{"age":8.25,"v":321.8},{"age":8.37,"v":318.2},{"age":8.49,"v":314.7},{"age":8.61,"v":309.3},{"age":8.73,"v":308.4},{"age":8.85,"v":305.8},{"age":8.96,"v":304.9},{"age":9.08,"v":300.4},{"age":9.20,"v":302.7},{"age":9.32,"v":305.8},{"age":9.44,"v":309.3},{"age":9.56,"v":304.9},{"age":9.68,"v":300.4},{"age":9.80,"v":296.0},{"age":9.92,"v":293.8},{"age":10.04,"v":296.0},{"age":10.16,"v":293.8},{"age":10.28,"v":296.0},{"age":10.40,"v":291.6},{"age":10.52,"v":287.1},{"age":10.63,"v":284.9},{"age":10.75,"v":276.0},{"age":10.87,"v":264.9},{"age":10.99,"v":253.8},{"age":11.11,"v":247.1},{"age":11.23,"v":242.7},{"age":11.35,"v":233.8},{"age":11.47,"v":224.9},{"age":11.59,"v":216.0},{"age":11.71,"v":211.6},{"age":11.83,"v":211.6},{"age":11.95,"v":216.0},{"age":12.07,"v":209.3},{"age":12.18,"v":211.6},{"age":12.30,"v":216.0},{"age":12.42,"v":202.7},{"age":12.54,"v":193.8},{"age":12.66,"v":187.1},{"age":12.78,"v":189.3},{"age":12.90,"v":184.9},{"age":13.02,"v":189.3},{"age":13.14,"v":207.1},{"age":13.26,"v":198.2},{"age":13.38,"v":204.9},{"age":13.50,"v":211.6},{"age":13.62,"v":202.7},{"age":13.74,"v":193.8},{"age":13.85,"v":178.2},{"age":13.97,"v":198.2},{"age":14.09,"v":216.0},{"age":14.21,"v":220.4},{"age":14.33,"v":222.7},{"age":14.45,"v":216.0},{"age":14.61,"v":220.4},{"age":14.73,"v":227.1},{"age":14.85,"v":216.0},{"age":14.97,"v":224.9},{"age":15.09,"v":233.8},{"age":15.21,"v":220.4},{"age":15.33,"v":233.8},{"age":15.44,"v":229.3},{"age":15.56,"v":238.2},{"age":15.68,"v":233.8},{"age":15.80,"v":240.4},{"age":15.92,"v":233.8},{"age":16.04,"v":229.3},{"age":16.16,"v":238.2},{"age":16.28,"v":233.8},{"age":16.40,"v":240.4},{"age":16.52,"v":238.2},{"age":16.64,"v":233.8},{"age":16.76,"v":240.4},{"age":16.88,"v":233.8},{"age":17.00,"v":227.1},{"age":17.11,"v":233.8},{"age":17.23,"v":224.9},{"age":17.35,"v":220.4},{"age":17.47,"v":218.2},{"age":17.59,"v":224.9},{"age":17.71,"v":220.4},{"age":17.83,"v":227.1},{"age":17.95,"v":238.2},{"age":18.07,"v":227.1},{"age":18.19,"v":222.7},{"age":18.31,"v":220.4},{"age":18.43,"v":224.9},{"age":18.55,"v":218.2},{"age":18.66,"v":222.7},{"age":18.78,"v":220.4},{"age":18.90,"v":224.9},{"age":19.02,"v":216.0},{"age":19.14,"v":220.4},{"age":19.26,"v":211.6},{"age":19.38,"v":220.4},{"age":19.50,"v":224.9},{"age":19.62,"v":231.6},{"age":19.74,"v":233.8},{"age":19.86,"v":238.2},{"age":19.98,"v":240.4},{"age":20.10,"v":233.8},{"age":20.22,"v":227.1},{"age":20.33,"v":220.4},{"age":20.45,"v":224.9},{"age":20.57,"v":220.4},{"age":20.69,"v":227.1},{"age":20.81,"v":231.6},{"age":20.93,"v":224.9},{"age":21.05,"v":218.2},{"age":21.17,"v":224.9},{"age":21.29,"v":216.0},{"age":21.41,"v":209.3},{"age":21.53,"v":220.4},{"age":21.65,"v":229.3},{"age":21.77,"v":224.9},{"age":21.88,"v":218.2},{"age":22.00,"v":220.4},{"age":22.12,"v":227.1},{"age":22.24,"v":231.6},{"age":22.36,"v":224.9},{"age":22.48,"v":220.4},{"age":22.60,"v":218.2},{"age":22.72,"v":220.4},{"age":22.84,"v":216.0},{"age":22.96,"v":211.6},{"age":23.08,"v":209.3},{"age":23.20,"v":211.6},{"age":23.32,"v":207.1},{"age":23.43,"v":204.9},{"age":23.55,"v":209.3},{"age":23.67,"v":202.7},{"age":23.79,"v":207.1},{"age":23.91,"v":204.9},{"age":24.03,"v":211.6},{"age":24.15,"v":207.1},{"age":24.27,"v":196.0},{"age":24.39,"v":207.1},{"age":24.51,"v":211.6},{"age":24.63,"v":204.9},{"age":24.75,"v":211.6},{"age":24.87,"v":207.1},{"age":24.99,"v":202.7},{"age":25.10,"v":198.2},{"age":25.22,"v":204.9},{"age":25.34,"v":207.1},{"age":25.46,"v":211.6},{"age":25.58,"v":216.0},{"age":25.70,"v":220.4},{"age":25.82,"v":218.2},{"age":25.94,"v":224.9},{"age":26.06,"v":220.4},{"age":26.18,"v":216.0},{"age":26.30,"v":220.4},{"age":26.42,"v":224.9},{"age":26.54,"v":227.1},{"age":26.65,"v":233.8},{"age":26.77,"v":229.3},{"age":26.89,"v":231.6},{"age":27.01,"v":233.8},{"age":27.13,"v":227.1},{"age":27.25,"v":231.6},{"age":27.37,"v":236.0},{"age":27.49,"v":220.4},{"age":27.61,"v":204.9},{"age":27.73,"v":209.3},{"age":27.85,"v":207.1},{"age":27.97,"v":202.7},{"age":28.09,"v":204.9},{"age":28.21,"v":198.2},{"age":28.32,"v":204.9},{"age":28.44,"v":202.7},{"age":28.56,"v":196.0},{"age":28.68,"v":202.7},{"age":28.80,"v":209.3},{"age":28.92,"v":200.4},{"age":29.04,"v":209.3},{"age":29.16,"v":218.2},{"age":29.28,"v":198.2},{"age":29.40,"v":187.1},{"age":29.52,"v":198.2},{"age":29.64,"v":204.9},{"age":29.76,"v":209.3}],
  "g_al": [{"age":1.09,"v":4.202},{"age":1.41,"v":3.388},{"age":1.75,"v":4.279},{"age":2.05,"v":3.543},{"age":2.41,"v":3.411},{"age":2.76,"v":3.907},{"age":3.12,"v":3.558},{"age":3.84,"v":3.876},{"age":4.19,"v":4.147},{"age":4.55,"v":4.357},{"age":4.95,"v":4.264},{"age":5.45,"v":4.457},{"age":5.92,"v":4.163},{"age":6.42,"v":4.395},{"age":6.90,"v":4.240},{"age":7.37,"v":3.558},{"age":7.89,"v":4.643},{"age":8.41,"v":4.721},{"age":10.91,"v":3.527},{"age":11.27,"v":3.209},{"age":11.65,"v":2.574},{"age":11.99,"v":2.380},{"age":12.36,"v":2.434},{"age":12.68,"v":1.977},{"age":13.22,"v":2.364},{"age":13.54,"v":2.597},{"age":13.79,"v":2.279},{"age":14.03,"v":2.341},{"age":14.55,"v":2.767},{"age":15.15,"v":2.767},{"age":15.52,"v":2.744},{"age":15.88,"v":2.961},{"age":16.24,"v":2.961},{"age":16.92,"v":2.977},{"age":17.57,"v":2.868},{"age":17.83,"v":2.938},{"age":18.33,"v":2.806},{"age":18.82,"v":2.791},{"age":19.28,"v":2.767},{"age":19.78,"v":2.938},{"age":20.73,"v":2.806},{"age":21.23,"v":2.690},{"age":21.71,"v":2.938},{"age":22.18,"v":2.752},{"age":22.66,"v":2.729},{"age":23.12,"v":2.806},{"age":23.36,"v":2.496},{"age":23.59,"v":2.512},{"age":23.87,"v":2.496},{"age":24.13,"v":2.806},{"age":24.35,"v":2.713},{"age":24.63,"v":2.752},{"age":24.89,"v":2.535},{"age":25.12,"v":2.380},{"age":25.36,"v":2.403},{"age":25.94,"v":2.729},{"age":26.50,"v":2.674},{"age":27.09,"v":2.767},{"age":27.65,"v":2.651},{"age":27.95,"v":2.535},{"age":28.27,"v":2.597},{"age":29.30,"v":2.302}]
},
"encoding": {"x": {"field": "age", "type": "quantitative", "scale": {"domain": [0, 30], "nice": false, "zero": false}, "axis": {"values": [0,2,4,6,8,10,12,14,16,18,20,22,24,26,28,30], "labelExpr": "datum.value % 4 === 0 && datum.value < 30 ? datum.label : ''", "title": "Age (ka)", "titlePadding": 7, "tickSize": 6, "labelPadding": 3, "domainWidth": 1.6}}},
"layer": [
  {"data": {"values": [{"s0": 0, "s1": 11.1, "period": "Holocene"}, {"s0": 17.9, "s1": 24.1, "period": "LGM"}]},
   "mark": {"type": "rect"},
   "encoding": {"x": {"field": "s0", "type": "quantitative"}, "x2": {"field": "s1"}, "color": {"field": "period", "type": "nominal", "scale": {"domain": ["Holocene", "LGM"], "range": ["#d5ffff", "#e5e5e5"]}, "legend": null}}},
  {"data": {"values": [{"x0": 0, "x1": 11.1, "era": "Holocene"}, {"x0": 11.1, "x1": 18, "era": "Deglacial"}, {"x0": 18, "x1": 24.1, "era": "LGM"}, {"x0": 24.1, "x1": 30, "era": ""}]},
   "layer": [
     {"mark": {"type": "rect", "fill": "white", "stroke": "black", "strokeWidth": 1.3},
      "encoding": {"x": {"field": "x0", "type": "quantitative"}, "x2": {"field": "x1"}, "y": {"datum": 0, "type": "quantitative", "scale": {"domain": [0, 1], "range": [22, 0]}, "axis": null}, "y2": {"datum": 1}}},
     {"transform": [{"calculate": "(datum.x0 + datum.x1) / 2", "as": "mid"}],
      "mark": {"type": "text", "fontSize": 16, "baseline": "middle", "font": "Liberation Sans"},
      "encoding": {"x": {"field": "mid", "type": "quantitative"}, "y": {"datum": 0.45, "type": "quantitative"}, "text": {"field": "era"}}}
   ]},

  {"data": {"name": "a"},
   "mark": {"type": "line", "color": "#8000ff", "strokeWidth": 1.8, "point": {"shape": "square", "filled": true, "size": 24, "color": "#8000ff"}},
   "encoding": {"y": {"field": "v", "type": "quantitative", "scale": {"domain": [-22.17, -19.535], "range": [155.1, 22], "nice": false, "zero": false},
     "axis": {"orient": "left", "title": "TOC-δ¹³C (‰)", "values": [-22, -21, -20], "labelExpr": "'-' + abs(datum.value)", "tickSize": 7, "labelPadding": 3, "domainColor": "#8000ff", "tickColor": "#8000ff", "labelColor": "#8000ff", "titleColor": "#8000ff"}}}},
  {"data": {"values": [{}]},
   "mark": {"type": "text", "text": "a", "fontSize": 22, "fontWeight": "bold", "font": "Liberation Sans", "baseline": "middle"},
   "encoding": {"x": {"datum": 28.72, "type": "quantitative"}, "y": {"datum": -20.485, "type": "quantitative", "scale": {"domain": [-22.17, -19.535], "range": [155.1, 22], "nice": false, "zero": false},
     "axis": {"orient": "left", "title": null, "labels": false, "domain": false, "values": [-21.5, -20.5], "tickSize": 4, "tickColor": "#8000ff"}}}},
  {"data": {"values": [{}]},
   "mark": {"type": "point", "opacity": 0},
   "encoding": {"x": {"datum": 15, "type": "quantitative"}, "y": {"datum": -21, "type": "quantitative", "scale": {"domain": [-22.17, -19.535], "range": [155.1, 22], "nice": false, "zero": false},
     "axis": {"orient": "right", "title": null, "labels": false, "values": [-22, -21, -20], "tickSize": -7}}}},
  {"data": {"values": [{}]},
   "mark": {"type": "point", "opacity": 0},
   "encoding": {"x": {"datum": 15, "type": "quantitative"}, "y": {"datum": -21, "type": "quantitative", "scale": {"domain": [-22.17, -19.535], "range": [155.1, 22], "nice": false, "zero": false},
     "axis": {"orient": "right", "title": null, "labels": false, "domain": false, "values": [-21.5, -20.5], "tickSize": -4}}}},

  {"data": {"name": "b_oc"},
   "mark": {"type": "line", "color": "#ff00ff", "strokeWidth": 1.8},
   "encoding": {"y": {"field": "v", "type": "quantitative", "scale": {"domain": [0.347, 0.745], "range": [288, 155], "nice": false, "zero": false},
     "axis": {"orient": "left", "title": "OCₘₐᵣᵢₙₑ (wt%)", "values": [0.4, 0.5, 0.6, 0.7], "format": ".1f", "tickSize": -7, "labelPadding": 10, "domainColor": "#ff00ff", "tickColor": "#ff00ff", "labelColor": "#ff00ff", "titleColor": "#ff00ff"}}}},
  {"data": {"values": [{}]},
   "mark": {"type": "text", "text": "b", "fontSize": 22, "fontWeight": "bold", "font": "Liberation Sans", "baseline": "middle"},
   "encoding": {"x": {"datum": 28.72, "type": "quantitative"}, "y": {"datum": 0.715, "type": "quantitative", "scale": {"domain": [0.347, 0.745], "range": [288, 155], "nice": false, "zero": false},
     "axis": {"orient": "left", "title": null, "labels": false, "domain": false, "values": [0.35, 0.45, 0.55, 0.65], "tickSize": -4, "tickColor": "#ff00ff"}}}},
  {"data": {"values": [{}]},
   "mark": {"type": "point", "opacity": 0},
   "encoding": {"x": {"datum": 15, "type": "quantitative"}, "y": {"datum": 0.06, "type": "quantitative", "scale": {"domain": [0.03928, 0.08721], "range": [288, 155], "nice": false, "zero": false},
     "axis": {"orient": "right", "title": null, "labels": false, "domain": false, "values": [0.05, 0.07], "tickSize": 4}}}},

  {"data": {"name": "c_toc"},
   "mark": {"type": "line", "color": "#008000", "strokeWidth": 1.6},
   "encoding": {"y": {"field": "v", "type": "quantitative", "scale": {"domain": [0.472, 0.8645], "range": [428, 288], "nice": false, "zero": false},
     "axis": {"orient": "left", "title": "TOC (wt%)", "values": [0.5, 0.6, 0.7, 0.8], "format": ".1f", "tickSize": 7, "labelPadding": 3, "domainColor": "#008000", "tickColor": "#008000", "labelColor": "#008000", "titleColor": "#008000"}}}},
  {"data": {"values": [{}]},
   "mark": {"type": "text", "text": "c", "fontSize": 22, "fontWeight": "bold", "font": "Liberation Sans", "baseline": "middle"},
   "encoding": {"x": {"datum": 28.72, "type": "quantitative"}, "y": {"datum": 0.789, "type": "quantitative", "scale": {"domain": [0.472, 0.8645], "range": [428, 288], "nice": false, "zero": false},
     "axis": {"orient": "left", "title": null, "labels": false, "domain": false, "values": [0.55, 0.65, 0.75, 0.85], "tickSize": 4, "tickColor": "#008000"}}}},
  {"data": {"values": [{}]},
   "mark": {"type": "point", "opacity": 0},
   "encoding": {"x": {"datum": 15, "type": "quantitative"}, "y": {"datum": 0.08, "type": "quantitative", "scale": {"domain": [0.05932, 0.10678], "range": [428, 288], "nice": false, "zero": false},
     "axis": {"orient": "right", "title": null, "labels": false, "domain": false, "values": [0.07, 0.09], "tickSize": -4}}}},

  {"data": {"name": "d_opal"},
   "mark": {"type": "line", "color": "#ff8000", "strokeWidth": 1.6},
   "encoding": {"y": {"field": "v", "type": "quantitative", "scale": {"domain": [0.978, 4.197], "range": [575, 428], "nice": false, "zero": false},
     "axis": {"orient": "left", "title": "Opal (wt%)", "values": [1, 2, 3, 4], "format": "d", "tickSize": -7, "labelPadding": 10, "domainColor": "#ff8000", "tickColor": "#ff8000", "labelColor": "#ff8000", "titleColor": "#ff8000"}}}},
  {"data": {"values": [{}]},
   "mark": {"type": "text", "text": "d", "fontSize": 22, "fontWeight": "bold", "font": "Liberation Sans", "baseline": "middle"},
   "encoding": {"x": {"datum": 28.72, "type": "quantitative"}, "y": {"datum": 3.058, "type": "quantitative", "scale": {"domain": [0.978, 4.197], "range": [575, 428], "nice": false, "zero": false},
     "axis": {"orient": "left", "title": null, "labels": false, "domain": false, "values": [1.5, 2.5, 3.5], "tickSize": -4, "tickColor": "#ff8000"}}}},
  {"data": {"values": [{}]},
   "mark": {"type": "point", "opacity": 0},
   "encoding": {"x": {"datum": 15, "type": "quantitative"}, "y": {"datum": 0.3, "type": "quantitative", "scale": {"domain": [0.1459, 0.4918], "range": [575, 428], "nice": false, "zero": false},
     "axis": {"orient": "right", "title": null, "labels": false, "domain": false, "values": [0.15, 0.25, 0.35, 0.45], "tickSize": 4}}}},

  {"data": {"name": "e_ffa"},
   "mark": {"type": "line", "color": "#0000ff", "strokeWidth": 1.6},
   "encoding": {"y": {"field": "v", "type": "quantitative", "scale": {"domain": [0, 2.389], "range": [710, 575], "nice": false, "zero": false},
     "axis": {"orient": "left", "title": "FFA (x10³ N g⁻¹)", "values": [0, 1, 2], "format": "d", "tickSize": 7, "labelPadding": 3, "domainColor": "#0000ff", "tickColor": "#0000ff", "labelColor": "#0000ff", "titleColor": "#0000ff"}}}},
  {"data": {"values": [{}]},
   "mark": {"type": "text", "text": "e", "fontSize": 22, "fontWeight": "bold", "font": "Liberation Sans", "baseline": "middle"},
   "encoding": {"x": {"datum": 28.72, "type": "quantitative"}, "y": {"datum": 0.708, "type": "quantitative", "scale": {"domain": [0, 2.389], "range": [710, 575], "nice": false, "zero": false},
     "axis": {"orient": "left", "title": null, "labels": false, "domain": false, "values": [0.5, 1.5], "tickSize": 4, "tickColor": "#0000ff"}}}},
  {"data": {"values": [{}]},
   "mark": {"type": "point", "opacity": 0},
   "encoding": {"x": {"datum": 15, "type": "quantitative"}, "y": {"datum": 20, "type": "quantitative", "scale": {"domain": [1.646, 35.82], "range": [710, 575], "nice": false, "zero": false},
     "axis": {"orient": "right", "title": null, "labels": false, "domain": false, "values": [5, 15, 25, 35], "tickSize": -4}}}},

  {"data": {"name": "f_caco3"},
   "mark": {"type": "line", "color": "#808000", "strokeWidth": 1.6},
   "encoding": {"y": {"field": "v", "type": "quantitative", "scale": {"domain": [7.94, 22.32], "range": [834, 710], "nice": false, "zero": false},
     "axis": {"orient": "left", "title": "CaCO₃ (wt%)", "values": [8, 12, 16, 20], "format": "d", "tickSize": -7, "labelPadding": 10, "domainColor": "#808000", "tickColor": "#808000", "labelColor": "#808000", "titleColor": "#808000"}}}},
  {"data": {"values": [{}]},
   "mark": {"type": "text", "text": "f", "fontSize": 22, "fontWeight": "bold", "font": "Liberation Sans", "baseline": "middle"},
   "encoding": {"x": {"datum": 28.72, "type": "quantitative"}, "y": {"datum": 13.43, "type": "quantitative", "scale": {"domain": [7.94, 22.32], "range": [834, 710], "nice": false, "zero": false},
     "axis": {"orient": "left", "title": null, "labels": false, "domain": false, "values": [10, 14, 18, 22], "tickSize": -4, "tickColor": "#808000"}}}},
  {"data": {"values": [{}]},
   "mark": {"type": "point", "opacity": 0},
   "encoding": {"x": {"datum": 15, "type": "quantitative"}, "y": {"datum": 2, "type": "quantitative", "scale": {"domain": [0.981, 3.365], "range": [834, 710], "nice": false, "zero": false},
     "axis": {"orient": "right", "title": null, "labels": false, "domain": false, "values": [1.5, 2.5], "tickSize": 4}}}},

  {"data": {"name": "g_p"},
   "mark": {"type": "line", "color": "#ff0000", "strokeWidth": 1.6},
   "encoding": {"y": {"field": "v", "type": "quantitative", "scale": {"domain": [169.3, 364], "range": [980, 834], "nice": false, "zero": false},
     "axis": {"orient": "left", "title": "Pᵣₑₐcₜ. (mg kg⁻¹)", "values": [200, 300], "format": "d", "tickSize": 7, "labelPadding": 3, "domainColor": "#ff0000", "tickColor": "#ff0000", "labelColor": "#ff0000", "titleColor": "#ff0000"}}}},
  {"data": {"values": [{}]},
   "mark": {"type": "text", "text": "g", "fontSize": 22, "fontWeight": "bold", "font": "Liberation Sans", "baseline": "middle"},
   "encoding": {"x": {"datum": 28.72, "type": "quantitative"}, "y": {"datum": 247.1, "type": "quantitative", "scale": {"domain": [169.3, 364], "range": [980, 834], "nice": false, "zero": false},
     "axis": {"orient": "left", "title": null, "labels": false, "domain": false, "values": [250, 350], "tickSize": 4, "tickColor": "#ff0000"}}}},
  {"data": {"values": [{}]},
   "mark": {"type": "point", "opacity": 0},
   "encoding": {"x": {"datum": 15, "type": "quantitative"}, "y": {"datum": 3, "type": "quantitative", "scale": {"domain": [1.605, 5.0], "range": [980, 834], "nice": false, "zero": false},
     "axis": {"orient": "right", "title": null, "labels": false, "domain": false, "values": [2.5, 3.5, 4.5], "tickSize": -4}}}},

  {"data": {"name": "b_al"},
   "mark": {"type": "line", "color": "black", "strokeWidth": 1.6, "clip": true, "point": {"shape": "square", "filled": true, "size": 24, "color": "black"}},
   "encoding": {"y": {"field": "v", "type": "quantitative", "scale": {"domain": [0.03928, 0.08721], "range": [288, 155], "nice": false, "zero": false},
     "axis": {"orient": "right", "title": "OCₘₐᵣᵢₙₑ/Al", "titleAngle": 270, "titleBaseline": "top", "values": [0.04, 0.06, 0.08], "format": ".2f", "tickSize": 7, "labelPadding": 3}}}},
  {"data": {"name": "c_al"},
   "mark": {"type": "line", "color": "black", "strokeWidth": 1.6, "point": {"shape": "square", "filled": true, "size": 24, "color": "black"}},
   "encoding": {"y": {"field": "v", "type": "quantitative", "scale": {"domain": [0.05932, 0.10678], "range": [428, 288], "nice": false, "zero": false},
     "axis": {"orient": "right", "title": "TOC/Al", "titleAngle": 270, "titleBaseline": "top", "titlePadding": 18, "values": [0.06, 0.08, 0.1], "format": ".2f", "tickSize": -7, "labelPadding": 10}}}},
  {"data": {"name": "d_al"},
   "mark": {"type": "line", "color": "black", "strokeWidth": 1.6, "point": {"shape": "square", "filled": true, "size": 24, "color": "black"}},
   "encoding": {"y": {"field": "v", "type": "quantitative", "scale": {"domain": [0.1459, 0.4918], "range": [575, 428], "nice": false, "zero": false},
     "axis": {"orient": "right", "title": "Opal/Al", "titleAngle": 270, "titleBaseline": "top", "values": [0.2, 0.3, 0.4], "format": ".1f", "tickSize": 7, "labelPadding": 3}}}},
  {"data": {"name": "e_al"},
   "mark": {"type": "line", "color": "black", "strokeWidth": 1.6, "point": {"shape": "square", "filled": true, "size": 24, "color": "black"}},
   "encoding": {"y": {"field": "v", "type": "quantitative", "scale": {"domain": [1.646, 35.82], "range": [710, 575], "nice": false, "zero": false},
     "axis": {"orient": "right", "title": "FFA/Al (x10³ N g⁻¹)", "titleAngle": 270, "titleBaseline": "top", "titlePadding": 18, "values": [10, 20, 30], "format": "d", "tickSize": -7, "labelPadding": 10}}}},
  {"data": {"name": "f_al"},
   "mark": {"type": "line", "color": "black", "strokeWidth": 1.6, "point": {"shape": "square", "filled": true, "size": 24, "color": "black"}},
   "encoding": {"y": {"field": "v", "type": "quantitative", "scale": {"domain": [0.981, 3.365], "range": [834, 710], "nice": false, "zero": false},
     "axis": {"orient": "right", "title": "CaCO₃/Al", "titleAngle": 270, "titleBaseline": "top", "values": [1, 2, 3], "format": "d", "tickSize": 7, "labelPadding": 3}}}},
  {"data": {"name": "g_al"},
   "mark": {"type": "line", "color": "black", "strokeWidth": 1.6, "point": {"shape": "square", "filled": true, "size": 24, "color": "black"}},
   "encoding": {"y": {"field": "v", "type": "quantitative", "scale": {"domain": [1.605, 5.0], "range": [980, 834], "nice": false, "zero": false},
     "axis": {"orient": "right", "title": "Pᵣₑₐcₜ./Al (x10⁻³)", "titleAngle": 270, "titleBaseline": "top", "titlePadding": 18, "values": [2, 3, 4], "format": "d", "tickSize": -7, "labelPadding": 10}}}}
],
"resolve": {"scale": {"y": "independent"}, "axis": {"y": "independent"}}
}
